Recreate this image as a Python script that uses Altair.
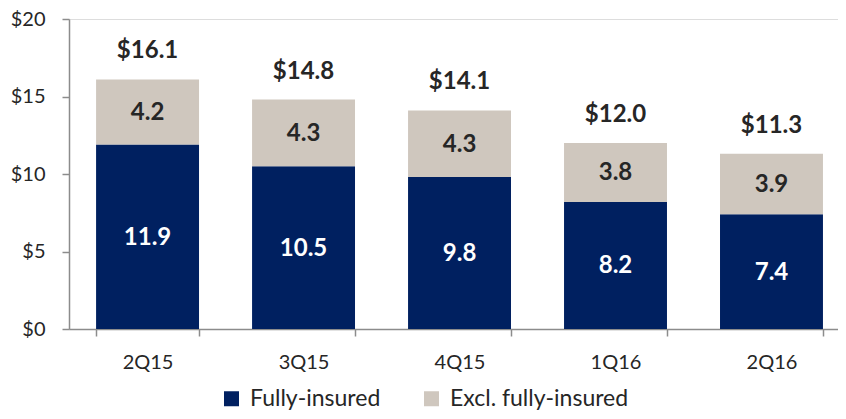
import altair as alt
import pandas as pd

quarters = ["2Q15", "3Q15", "4Q15", "1Q16", "2Q16"]
fully_insured = [11.9, 10.5, 9.8, 8.2, 7.4]
excl_fully = [4.2, 4.3, 4.3, 3.8, 3.9]
totals = [16.1, 14.8, 14.1, 12.0, 11.3]
series_names = ["Fully-insured", "Excl. fully-insured"]
colors = ["#002060", "#CFC7BE"]
label_colors = ["#FFFFFF", "#262626"]
y_ticks = [0, 5, 10, 15, 20]

rows = []
for q, f, e in zip(quarters, fully_insured, excl_fully):
    rows.append({"quarter": q, "series": series_names[0], "value": f, "order": 0})
    rows.append({"quarter": q, "series": series_names[1], "value": e, "order": 1})
df = pd.DataFrame(rows)
tot_df = pd.DataFrame({"quarter": quarters, "total": totals})

FONT = "Lato"
AX = "#8c8c8c"

x_enc = alt.X("quarter:N", sort=quarters, title=None,
              scale=alt.Scale(paddingInner=0.34, paddingOuter=0.135, align=0.643),
              axis=alt.Axis(labelAngle=0, labelFontSize=20, labelColor="#262626",
                            labelFont=FONT, domainColor=AX, tickColor=AX,
                            tickSize=7, tickBand="extent", labelPadding=16,
                            domainWidth=1.5, tickWidth=1.5))

bars = alt.Chart(df).mark_bar(stroke=None).encode(
    x=x_enc,
    y=alt.Y("value:Q", stack="zero", title=None,
            scale=alt.Scale(domain=[0, 20], nice=False),
            axis=alt.Axis(values=y_ticks, format="$.0f", grid=False, labelFontSize=20,
                          labelColor="#262626", labelFont=FONT, domainColor=AX,
                          tickColor=AX, tickSize=7, labelPadding=17,
                          domainWidth=1.5, tickWidth=1.5)),
    color=alt.Color("series:N", sort=series_names,
                    scale=alt.Scale(domain=series_names, range=colors),
                    legend=alt.Legend(title=None, orient="none", direction="horizontal",
                                      legendX=151, legendY=368, symbolType="square",
                                      symbolSize=225, symbolStrokeWidth=0,
                                      labelFontSize=23, labelFont=FONT, labelColor="#262626",
                                      labelLimit=400, labelOffset=7, columnPadding=39,
                                      padding=0)),
    order=alt.Order("order:Q"),
)

seg_labels = alt.Chart(df).transform_stack(
    stack="value", groupby=["quarter"], as_=["y0", "y1"],
    sort=[alt.SortField("order", order="ascending")]
).transform_calculate(mid="(datum.y0 + datum.y1) / 2").mark_text(
    fontSize=24, fontWeight="bold", font=FONT, baseline="middle", dy=1
).encode(
    x=alt.X("quarter:N", sort=quarters),
    y=alt.Y("mid:Q"),
    text=alt.Text("value:Q", format=".1f"),
    color=alt.Color("series:N", scale=alt.Scale(domain=series_names, range=label_colors),
                    legend=None),
)

tot_labels = alt.Chart(tot_df).mark_text(
    fontSize=24, fontWeight="bold", font=FONT, color="#262626",
    baseline="alphabetic", dy=-21
).encode(
    x=alt.X("quarter:N", sort=quarters),
    y=alt.Y("total:Q"),
    text=alt.Text("total:Q", format="$.1f"),
)

chart = alt.layer(bars, seg_labels, tot_labels).resolve_scale(color="independent").properties(
    width=769, height=310,
    autosize=alt.AutoSizeParams(type="none"),
    padding={"left": 61, "top": 11, "right": 0, "bottom": 82},
).configure_view(stroke=None).configure(background="white")

chart.save("out.html", embed_options={"renderer": "svg", "actions": False})
